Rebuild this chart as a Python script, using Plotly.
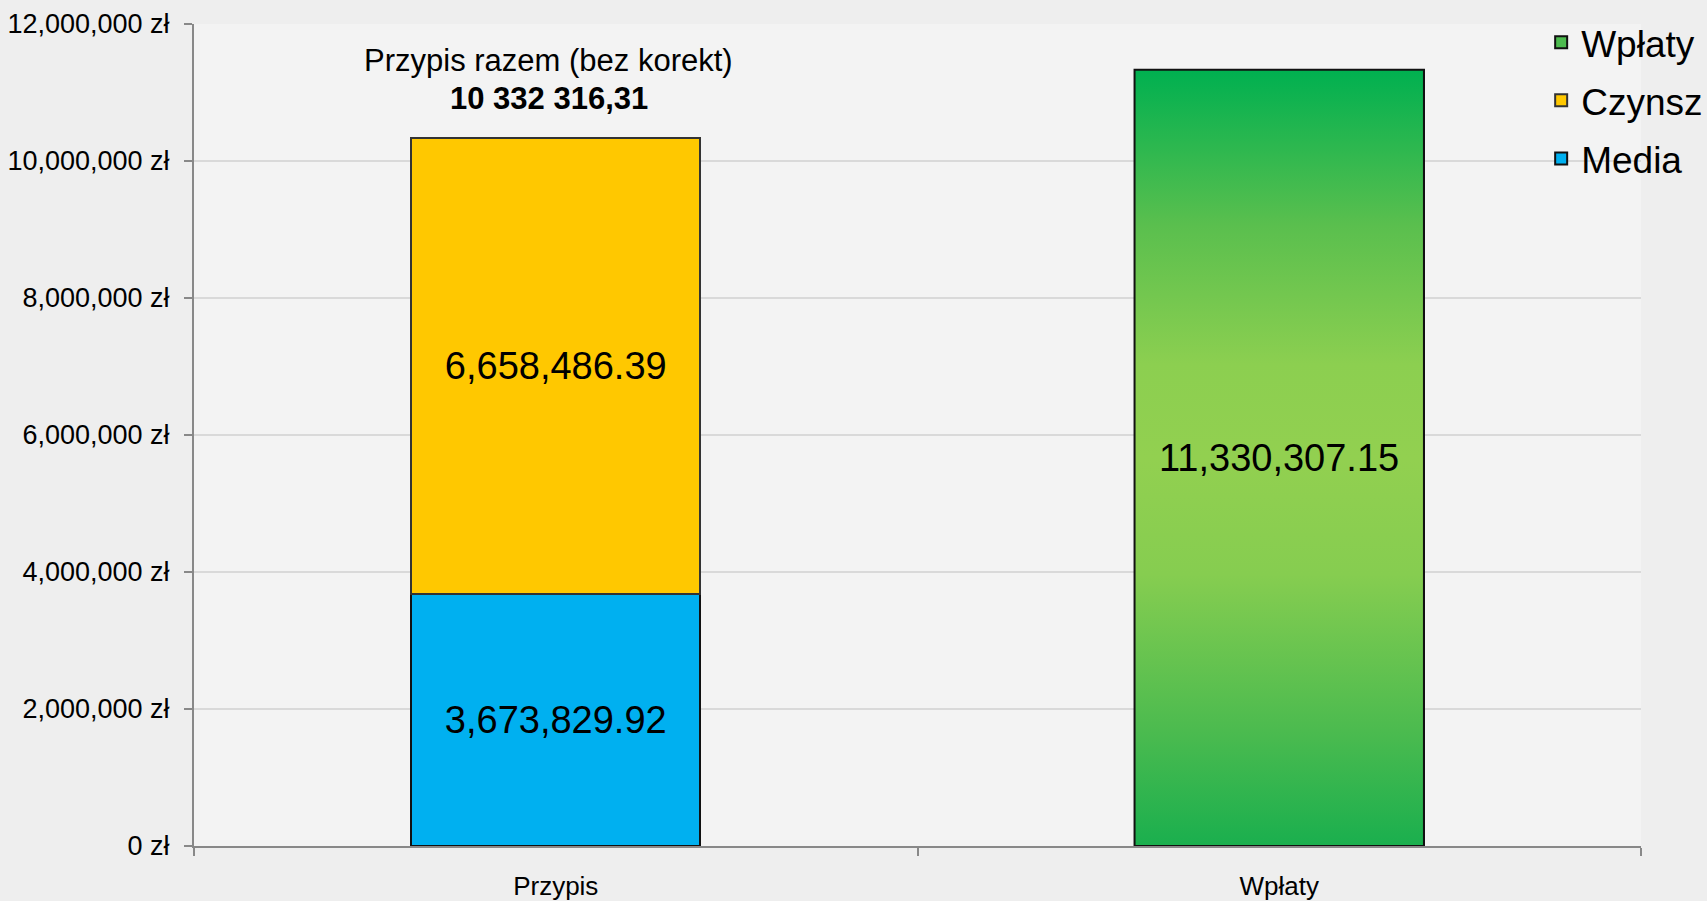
import plotly.graph_objects as go

categories = ["Przypis", "Wpłaty"]
media_values = [3673829.92, None]
czynsz_values = [6658486.39, None]
wplaty_values = [None, 11330307.15]
y_tickvals = [0, 2000000, 4000000, 6000000, 8000000, 10000000, 12000000]
y_ticktext = [f"{v:,} zł" for v in y_tickvals]

FONT = "Liberation Sans, Arial, sans-serif"
BAR_W = 0.4
LABEL_SIZE = 38
xpos = list(range(len(categories)))

fig = go.Figure()

fig.add_trace(go.Bar(
    x=xpos, y=media_values, name="Media", width=BAR_W, legendgroup="m", legendrank=3,
    marker=dict(color="#00B0F0", line=dict(color="#111111", width=2)),
    texttemplate="%{y:,.2f}", textposition="inside", insidetextanchor="middle",
    textfont=dict(size=LABEL_SIZE, color="black", family=FONT), constraintext="none",
))
fig.add_trace(go.Bar(
    x=xpos, y=czynsz_values, name="Czynsz", width=BAR_W, legendgroup="c", legendrank=2,
    marker=dict(color="#FFC800", line=dict(color="#333333", width=2)),
    texttemplate="%{y:,.2f}", textposition="inside", insidetextanchor="middle",
    textfont=dict(size=LABEL_SIZE, color="black", family=FONT), constraintext="none",
))
fig.add_trace(go.Bar(
    x=xpos, y=wplaty_values, name="Wpłaty", width=BAR_W, legendgroup="w", legendrank=1,
    marker=dict(color="#4DBB4F", line=dict(color="#111111", width=2)),
))

# gradient overlay for the Wpłaty bar
wi = 1
wv = wplaty_values[wi]
fig.add_trace(go.Scatter(
    x=[wi - BAR_W / 2, wi + BAR_W / 2, wi + BAR_W / 2, wi - BAR_W / 2, wi - BAR_W / 2],
    y=[0, 0, wv, wv, 0],
    mode="lines", fill="toself", showlegend=False, hoverinfo="skip",
    line=dict(color="#111111", width=2),
    fillgradient=dict(type="vertical", colorscale=[
        [0, "#1aaf4e"], [0.15, "#4cbb4f"], [0.35, "#86cd50"], [0.5, "#92d050"],
        [0.62, "#8ccf50"], [0.8, "#5abf4e"], [1, "#00b050"]]),
))
fig.add_annotation(x=wi, y=wv / 2, text=f"{wv:,.2f}", showarrow=False,
                   font=dict(size=LABEL_SIZE, color="black", family=FONT))

total = media_values[0] + czynsz_values[0]
total_txt = f"{total:,.2f}".replace(",", " ").replace(".", ",")
fig.add_annotation(x=0, y=total, yanchor="middle", yshift=78, xshift=-7, showarrow=False,
                   text="Przypis razem (bez korekt)",
                   font=dict(size=31, color="black", family=FONT))
fig.add_annotation(x=0, y=total, yanchor="middle", yshift=40, xshift=-7, showarrow=False,
                   text=f"<b>{total_txt}</b>",
                   font=dict(size=31, color="black", family=FONT))

fig.update_layout(
    width=1707, height=901, barmode="stack",
    margin=dict(l=194, r=66, t=24, b=55, autoexpand=False),
    paper_bgcolor="#eeeeee", plot_bgcolor="#f3f3f3",
    font=dict(family=FONT, color="black"),
    legend=dict(x=0.931, y=1.015, xanchor="left", yanchor="top",
                traceorder="grouped",
                font=dict(size=37, family=FONT), bgcolor="rgba(0,0,0,0)",
                itemwidth=30, tracegroupgap=7),
    showlegend=True,
)
fig.update_xaxes(
    range=[-0.5, 1.5], tickvals=xpos, ticktext=categories, ticks="",
    tickfont=dict(size=26, family=FONT), showgrid=False, zeroline=False,
    ticklabelstandoff=16,
    showline=True, linecolor="#888888", linewidth=2,
    minor=dict(tickvals=[-0.5, 0.5, 1.5], ticks="outside", ticklen=8,
               tickcolor="#888888", tickwidth=2, showgrid=False),
)
fig.update_yaxes(
    range=[0, 12000000], tickvals=y_tickvals, ticktext=y_ticktext,
    tickfont=dict(size=27, family=FONT), ticklabelstandoff=9,
    ticks="outside", ticklen=8, tickcolor="#888888", tickwidth=2,
    showgrid=True, gridcolor="#d9d9d9", gridwidth=2, zeroline=False,
    showline=True, linecolor="#888888", linewidth=2,
)

fig.write_html("out.html", config={"displayModeBar": False},
               post_script="document.body.style.margin='0';document.body.style.overflow='hidden';")
